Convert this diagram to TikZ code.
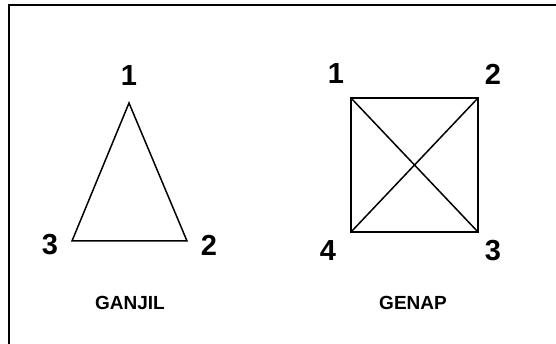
\documentclass[tikz,border=0pt]{standalone}
\usepackage{fontspec}
\setmainfont{Liberation Sans}
\usetikzlibrary{positioning, calc}

\begin{document}
\begin{tikzpicture}[
      x=1pt, y=-1pt,
      edge/.style={draw, line width=1.5pt, line join=miter},
      num/.style={font=\fontsize{29}{29}\selectfont\bfseries, inner sep=0pt},
      caption/.style={font=\fontsize{19}{19}\selectfont\bfseries, inner sep=0pt}
    ]
    \useasboundingbox (0,0) rectangle (556,344);
    \draw[line width=1.5pt] (556,5) -| (9,344);

    % ganjil: triangle
    \coordinate (t1) at (129,103);
    \coordinate (t2) at (187,241);
    \coordinate (t3) at (72,241);
    \draw[edge] (t1) -- (t2) -- (t3) -- cycle;
    \node[num] (lt1) at (129,76) {1};
    \node[num] (lt2) at (209,245) {2};
    \node[num] (lt3) at (50,245) {3};
    \node[caption] (ganjil) at (130,303) {GANJIL};

    % genap: square with diagonals
    \coordinate (s1) at (351,98);
    \coordinate (s2) at (478,98);
    \coordinate (s3) at (478,232);
    \coordinate (s4) at (351,232);
    \draw[edge] (s1) -- (s2) -- (s3) -- (s4) -- cycle;
    \draw[edge] (s1) -- (s3);
    \draw[edge] (s2) -- (s4);
    \node[num] (ls1) at (336,74) {1};
    \node[num] (ls2) at (493,74) {2};
    \node[num] (ls3) at (493,251) {3};
    \node[num] (ls4) at (328,251) {4};
    \node[caption] (genap) at (413,303) {GENAP};
  \end{tikzpicture}
\end{document}
